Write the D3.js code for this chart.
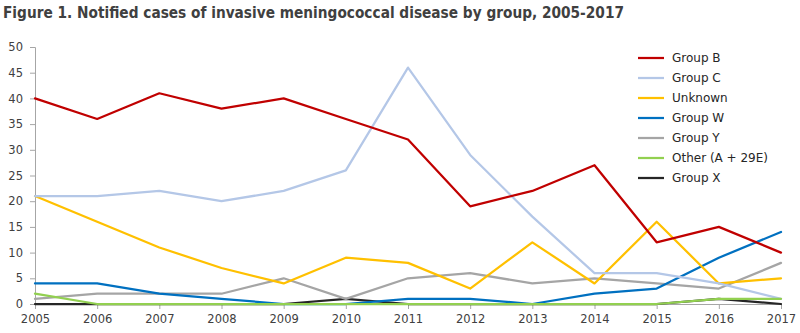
<!DOCTYPE html>
<html>
<head>
<meta charset="utf-8">
<script src="https://cdn.jsdelivr.net/npm/d3@7"></script>
<style>
  html, body { margin: 0; padding: 0; background: #fff; }
  svg { display: block; }
</style>
</head>
<body>
<div id="chart"></div>
<script>
// Notified cases of invasive meningococcal disease by serogroup
const years = [2005, 2006, 2007, 2008, 2009, 2010, 2011, 2012, 2013, 2014, 2015, 2016, 2017];
const groupB  = [40, 36, 41, 38, 40, 36, 32, 19, 22, 27, 12, 15, 10];
const groupC  = [21, 21, 22, 20, 22, 26, 46, 29, 17, 6, 6, 4, 1];
const unknown = [21, 16, 11, 7, 4, 9, 8, 3, 12, 4, 16, 4, 5];
const groupW  = [4, 4, 2, 1, 0, 0, 1, 1, 0, 2, 3, 9, 14];
const groupY  = [1, 2, 2, 2, 5, 1, 5, 6, 4, 5, 4, 3, 8];
const other   = [2, 0, 0, 0, 0, 0, 0, 0, 0, 0, 0, 1, 1];
const groupX  = [0, 0, 0, 0, 0, 1, 0, 0, 0, 0, 0, 1, 0];
const yTicks  = [0, 5, 10, 15, 20, 25, 30, 35, 40, 45, 50];
const seriesNames = ["Group B", "Group C", "Unknown", "Group W", "Group Y", "Other (A + 29E)", "Group X"];
const seriesValues = [groupB, groupC, unknown, groupW, groupY, other, groupX];
const seriesColors = ["#C00000", "#B4C7E7", "#FFC000", "#0070C0", "#A5A5A5", "#92D050", "#262626"];
// paint order: lower series first, so Group B and Other end on top
const paintOrder = [6, 4, 3, 2, 1, 0, 5];

const W = 800, H = 333;
const margin = { left: 35, right: 19, top: 47, bottom: 29 };
const font = "'Century Gothic', 'URW Gothic', 'DejaVu Sans', sans-serif";

const svg = d3.select("#chart").append("svg")
  .attr("width", W).attr("height", H)
  .style("font-family", font);

const x = d3.scalePoint().domain(years).range([margin.left, W - margin.right]);
const y = d3.scaleLinear().domain([0, 50]).range([H - margin.bottom, margin.top]);

// title
svg.append("text")
  .attr("x", 3).attr("y", 18)
  .attr("fill", "#404040")
  .attr("font-size", 15).attr("font-weight", "bold")
  .attr("textLength", 621).attr("lengthAdjust", "spacingAndGlyphs")
  .text("Figure 1. Notified cases of invasive meningococcal disease by group, 2005-2017");

// y axis
const yAxis = svg.append("g")
  .attr("transform", `translate(${margin.left},0)`)
  .call(d3.axisLeft(y).tickValues(yTicks).tickSize(5).tickPadding(7).tickFormat(d3.format("d")));
yAxis.select(".domain").attr("stroke", "#A6A6A6").attr("stroke-width", 1);
yAxis.selectAll(".tick line").attr("stroke", "#A6A6A6");
yAxis.selectAll(".tick text").attr("fill", "#404040").attr("font-size", 11.5)
  .style("font-family", font);

// x axis
const xAxis = svg.append("g")
  .attr("transform", `translate(0,${y(0)})`)
  .call(d3.axisBottom(x).tickSize(5).tickPadding(6).tickSizeOuter(0));
xAxis.select(".domain").attr("stroke", "#A6A6A6").attr("stroke-width", 1);
xAxis.selectAll(".tick line").attr("stroke", "#A6A6A6");
xAxis.selectAll(".tick text").attr("fill", "#404040").attr("font-size", 11.5)
  .style("font-family", font);

// series lines
const line = d3.line()
  .x((d, i) => x(years[i]))
  .y(d => y(d));

svg.append("g").selectAll("path")
  .data(paintOrder)
  .join("path")
  .attr("d", k => line(seriesValues[k]))
  .attr("fill", "none")
  .attr("stroke", k => seriesColors[k])
  .attr("stroke-width", 2.25)
  .attr("stroke-linejoin", "round")
  .attr("stroke-linecap", "round");

// legend
const legend = svg.append("g").attr("transform", "translate(638,58)");
const rows = legend.selectAll("g")
  .data(seriesNames)
  .join("g")
  .attr("transform", (d, i) => `translate(0,${i * 20})`);
rows.append("line")
  .attr("x1", 0).attr("x2", 26)
  .attr("y1", 0).attr("y2", 0)
  .attr("stroke", (d, i) => seriesColors[i])
  .attr("stroke-width", 2.25);
rows.append("text")
  .attr("x", 34).attr("y", 0).attr("dy", "0.35em")
  .attr("fill", "#262626")
  .attr("font-size", 12)
  .text(d => d);
</script>
</body>
</html>
